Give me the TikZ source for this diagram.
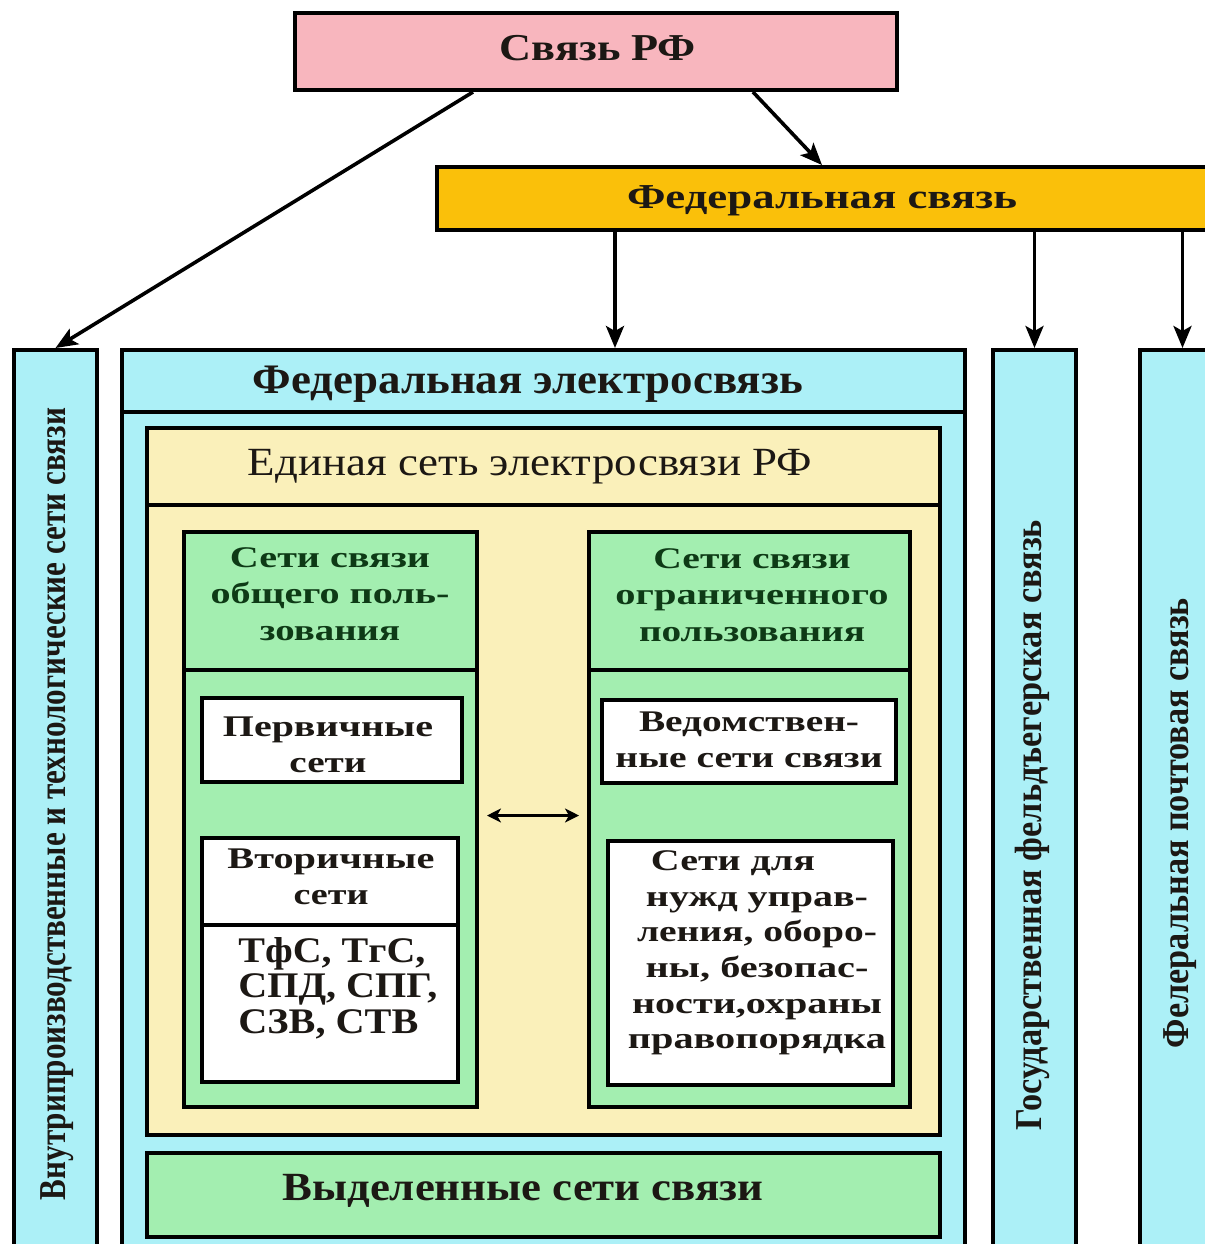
\documentclass[tikz,border=0pt]{standalone}
\usepackage{fontspec}
\setmainfont{Liberation Serif}
\usetikzlibrary{arrows.meta,fit}

% stretch a line of text to a given width, keeping its height
\newcommand\wfit[2]{\resizebox{#1}{\height}{#2}}

\definecolor{cpink}{RGB}{248,182,190}
\definecolor{corange}{RGB}{250,192,10}
\definecolor{ccyan}{RGB}{172,240,247}
\definecolor{cyellow}{RGB}{250,240,186}
\definecolor{cgreen}{RGB}{163,238,176}
\definecolor{ctext}{RGB}{28,24,20}
\definecolor{cgtext}{RGB}{14,58,22}

\tikzset{
  box/.style={draw=black, line width=2pt, inner sep=0pt, rectangle},
  lbl/.style={inner sep=0pt, text=ctext, align=center},
  glbl/.style={lbl, text=cgtext, font=\fontsize{15}{18.2}\selectfont\bfseries},
  wlbl/.style={lbl, font=\fontsize{15}{18}\selectfont\bfseries},
  vlbl/.style={lbl, rotate=90, font=\fontsize{19}{20}\selectfont\bfseries},
  divider/.style={line width=2pt},
  arr/.style={line width=1.8pt, -{Stealth[length=11pt,width=9pt,inset=2.5pt]}},
  darr/.style={line width=1.5pt, {Stealth[length=7pt,width=7pt,inset=2pt]}-{Stealth[length=7pt,width=7pt,inset=2pt]}}
}

\begin{document}
\begin{tikzpicture}[x=0.5pt, y=-0.5pt]
\useasboundingbox (0,0) rectangle (1205,1244);
\fill[white] (0,0) rectangle (1205,1244);
\clip (0,0) rectangle (1205,1244);

% top level
\node[box, fill=cpink, fit={(295,13) (897,90)}] (svyaz) {};
\node[lbl, font=\fontsize{19}{20}\selectfont\bfseries] (tsvyaz) at (598,48) {\wfit{98pt}{Связь РФ}};

\node[box, fill=corange, fit={(437,167) (1215,230)}] (fed) {};
\node[lbl, font=\fontsize{17.5}{20}\selectfont\bfseries] (tfed) at (822,201) {\wfit{195pt}{Федеральная связь}};

% vertical strips
\node[box, fill=ccyan, fit={(14,350) (97,1262)}] (vleft) {};
\node[vlbl] (tvleft) at (57,804) {\wfit{396pt}{Внутрипроизводственные и технологические сети связи}};

\node[box, fill=ccyan, fit={(993,350) (1076,1262)}] (gos) {};
\node[vlbl] (tgos) at (1032,825) {\wfit{305pt}{Государственная фельдъегерская связь}};

\node[box, fill=ccyan, fit={(1140,350) (1225,1262)}] (post) {};
\node[vlbl] (tpost) at (1180,823) {\wfit{225pt}{Фелеральная почтовая связь}};

% federal telecommunication
\node[box, fill=ccyan, fit={(122,350) (965,1262)}] (fedel) {};
\draw[divider] (fedel.west |- 0,412) -- (fedel.east |- 0,412);
\node[lbl, font=\fontsize{21}{22}\selectfont\bfseries] (tfedel) at (528,384) {\wfit{275pt}{Федеральная электросвязь}};

% unified network
\node[box, fill=cyellow, fit={(147,428) (940,1135)}] (edin) {};
\draw[divider] (edin.west |- 0,505) -- (edin.east |- 0,505);
\node[lbl, font=\fontsize{20}{22}\selectfont] (tedin) at (530,467) {\wfit{282pt}{Единая сеть электросвязи РФ}};

% public networks
\node[box, fill=cgreen, fit={(184,532) (477,1107)}] (lg) {};
\draw[divider] (lg.west |- 0,670) -- (lg.east |- 0,670);
\node[glbl] (tlg) at (330,594) {\wfit{100pt}{Сети связи}\\ \wfit{119.5pt}{общего поль-}\\ \wfit{70pt}{зования}};

\node[box, fill=white, fit={(202,698) (462,782)}] (perv) {};
\node[wlbl] (tperv) at (328,745) {\wfit{105pt}{Первичные}\\ \wfit{38.5pt}{сети}};

\node[box, fill=white, fit={(202,838) (458,1082)}] (vtor) {};
\draw[divider] (vtor.west |- 0,925) -- (vtor.east |- 0,925);
\node[wlbl] (tvtor) at (331,877) {\wfit{103.5pt}{Вторичные}\\ \wfit{37.5pt}{сети}};
\node[lbl, anchor=west, align=left, font=\fontsize{18}{17.8}\selectfont\bfseries] (tvtypes) at (238,988)
  {\wfit{93.5pt}{ТфС, ТгС,}\\ \wfit{99.5pt}{СПД, СПГ,}\\ \wfit{90pt}{СЗВ, СТВ}};

% restricted networks
\node[box, fill=cgreen, fit={(589,532) (910,1107)}] (rg) {};
\draw[divider] (rg.west |- 0,670) -- (rg.east |- 0,670);
\node[glbl] (trg) at (752,595) {\wfit{98.5pt}{Сети связи}\\ \wfit{136.5pt}{ограниченного}\\ \wfit{113pt}{пользования}};

\node[box, fill=white, fit={(602,700) (896,783)}] (ved) {};
\node[wlbl] (tved) at (749,740) {\wfit{110pt}{Ведомствен-}\\ \wfit{133.5pt}{ные сети связи}};

\node[box, fill=white, fit={(608,841) (893,1085)}] (nuzhd) {};
\node[lbl, font=\fontsize{15}{17.8}\selectfont\bfseries] (tnuzhd) at (757,953)
  {\wfit{82pt}{Сети для}\hspace*{24pt}\\ \wfit{111pt}{нужд управ-}\\ \wfit{120pt}{ления, оборо-}\\
   \wfit{111.5pt}{ны, безопас-}\\ \wfit{125pt}{ности,охраны}\\ \wfit{129pt}{правопорядка}};

% allocated networks
\node[box, fill=cgreen, fit={(147,1153) (940,1237)}] (vyd) {};
\node[lbl, font=\fontsize{20}{22}\selectfont\bfseries] (tvyd) at (523,1191) {\wfit{240.5pt}{Выделенные сети связи}};

% connectors
\draw[arr] ([xshift=90pt]svyaz.south west) -- (vleft.north);
\draw[arr] ([xshift=230pt]svyaz.south west) -- (fed.north west -| tfed);
\draw[arr] ([xshift=90pt]fed.south west) -- ([xshift=247.5pt]fedel.north west);
\draw[arr] (fed.south -| gos.north) -- (gos.north);
\draw[arr] (fed.south -| post.north) -- (post.north);
\draw[darr] ([xshift=4pt,yshift=2pt]lg.east) -- ([xshift=-4pt,yshift=2pt]rg.west);
\end{tikzpicture}
\end{document}
